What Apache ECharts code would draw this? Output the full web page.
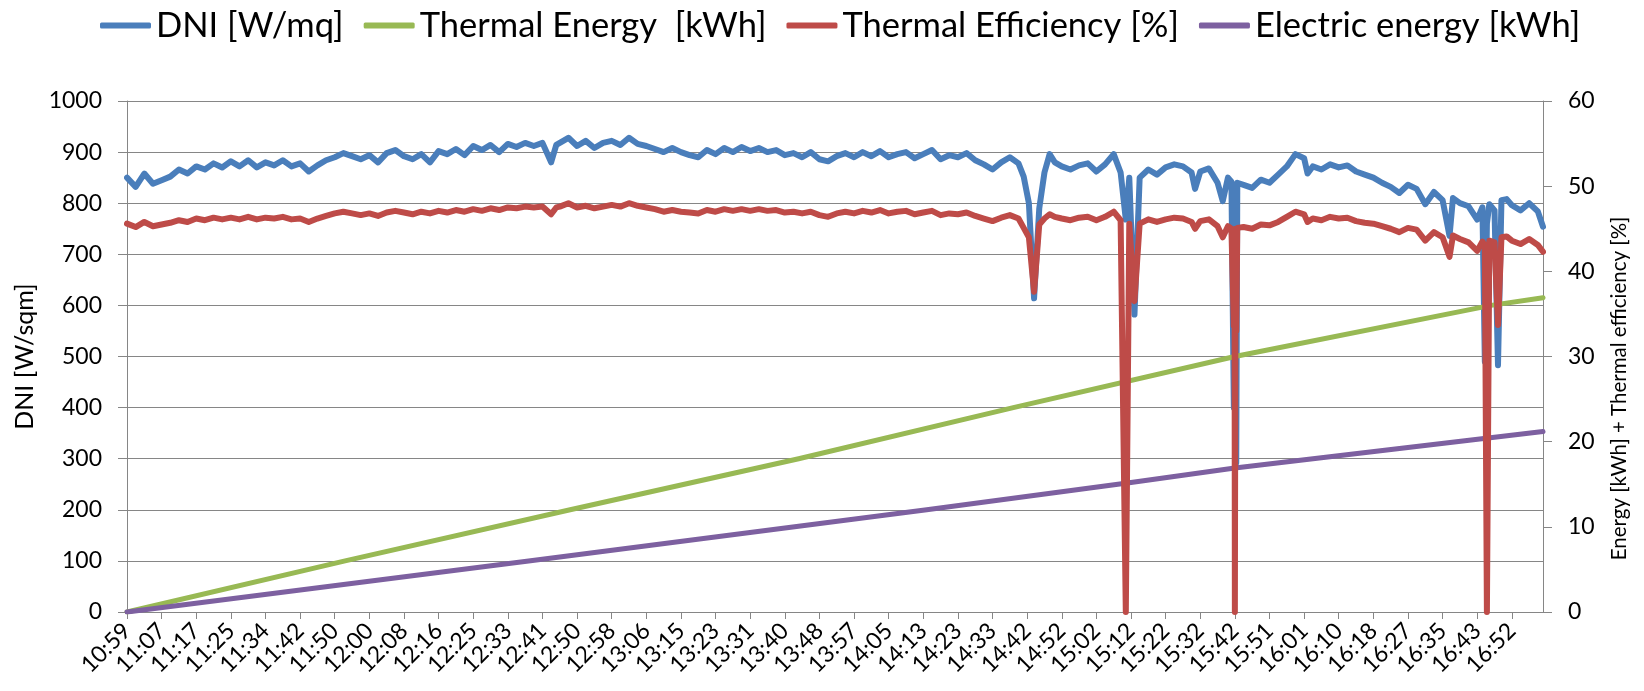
<!DOCTYPE html>
<html>
<head>
<meta charset="utf-8">
<script src="https://cdn.jsdelivr.net/npm/echarts@6/dist/echarts.min.js"></script>
<style>
html,body{margin:0;padding:0;background:#fff;}
#chart{width:1644px;height:691px;}
</style>
</head>
<body>
<div id="chart"></div>
<script>
// x position = index along the category axis, in units of one label step
const tickLabels = ['10:59','11:07','11:17','11:25','11:34','11:42','11:50','12:00','12:08','12:16','12:25','12:33','12:41','12:50','12:58','13:06','13:15','13:23','13:31','13:40','13:48','13:57','14:05','14:13','14:23','14:33','14:42','14:52','15:02','15:12','15:22','15:32','15:42','15:51','16:01','16:10','16:18','16:27','16:35','16:43','16:52'];
const xMax = 40.9;

const dni = [
[0,850],[0.25,832],[0.5,858],[0.75,838],[1,845],[1.25,852],[1.5,866],[1.75,858],[2,872],[2.25,866],[2.5,878],[2.75,870],
[3,882],[3.25,872],[3.5,884],[3.75,870],[4,880],[4.25,874],[4.5,884],[4.75,872],[5,878],[5.25,862],[5.5,874],[5.75,884],
[6,890],[6.25,898],[6.5,892],[6.75,886],[7,894],[7.25,880],[7.5,898],[7.75,904],[8,892],[8.25,886],[8.5,896],[8.75,880],
[9,902],[9.25,896],[9.5,906],[9.75,894],[10,912],[10.25,904],[10.5,914],[10.75,900],[11,916],[11.25,910],[11.5,918],[11.75,912],
[12,918],[12.25,880],[12.4,914],[12.5,918],[12.75,928],[13,912],[13.25,922],[13.5,908],[13.75,918],[14,922],[14.25,914],[14.5,928],
[14.75,916],[15,912],[15.25,906],[15.5,900],[15.75,908],[16,900],[16.25,894],[16.5,890],[16.75,904],[17,896],[17.25,908],[17.5,900],
[17.75,910],[18,902],[18.25,908],[18.5,900],[18.75,904],[19,894],[19.25,898],[19.5,890],[19.75,900],[20,886],[20.25,882],[20.5,892],
[20.75,898],[21,890],[21.25,900],[21.5,892],[21.75,902],[22,890],[22.25,896],[22.5,900],[22.75,888],[23,896],[23.25,904],[23.5,886],
[23.75,894],[24,890],[24.25,898],[24.5,884],[24.75,876],[25,866],[25.25,880],[25.5,890],[25.75,878],[25.9,852],[26.05,800],[26.2,614],
[26.35,790],[26.5,860],[26.65,896],[26.8,880],[27,872],[27.25,866],[27.5,874],[27.75,878],[28,862],[28.25,876],[28.5,896],[28.7,860],
[28.85,768],[28.95,850],[29.1,582],[29.25,850],[29.5,866],[29.75,856],[30,870],[30.25,876],[30.5,872],[30.75,860],[30.85,828],[31,862],
[31.25,868],[31.5,840],[31.65,804],[31.8,850],[31.9,842],[31.97,400],[31.99,830],[32,760],[32.02,834],[32.04,292],[32.07,840],[32.25,836],
[32.5,830],[32.75,846],[33,840],[33.25,856],[33.5,872],[33.75,896],[34,888],[34.1,858],[34.25,872],[34.5,866],[34.75,876],[35,870],
[35.25,874],[35.5,862],[35.75,856],[36,850],[36.25,840],[36.5,832],[36.75,820],[37,836],[37.25,828],[37.5,798],[37.75,822],[38,806],
[38.2,736],[38.3,810],[38.5,800],[38.75,794],[39,768],[39.15,792],[39.22,490],[39.28,760],[39.35,798],[39.5,786],[39.6,483],[39.7,806],
[39.85,808],[40,796],[40.25,786],[40.5,800],[40.75,784],[40.9,754]
];

const efficiency = [
[0,45.6],[0.25,45.2],[0.5,45.8],[0.75,45.3],[1,45.5],[1.25,45.7],[1.5,46.0],[1.75,45.8],[2,46.2],[2.25,46.0],[2.5,46.3],[2.75,46.1],
[3,46.3],[3.25,46.1],[3.5,46.4],[3.75,46.1],[4,46.3],[4.25,46.2],[4.5,46.4],[4.75,46.1],[5,46.2],[5.25,45.8],[5.5,46.2],[5.75,46.5],
[6,46.8],[6.25,47.0],[6.5,46.8],[6.75,46.6],[7,46.8],[7.25,46.5],[7.5,46.9],[7.75,47.1],[8,46.9],[8.25,46.7],[8.5,47.0],[8.75,46.8],
[9,47.1],[9.25,46.9],[9.5,47.2],[9.75,47.0],[10,47.3],[10.25,47.1],[10.5,47.4],[10.75,47.2],[11,47.5],[11.25,47.4],[11.5,47.6],[11.75,47.5],
[12,47.6],[12.25,46.7],[12.4,47.5],[12.5,47.6],[12.75,48.0],[13,47.5],[13.25,47.7],[13.5,47.4],[13.75,47.6],[14,47.8],[14.25,47.6],[14.5,48.0],
[14.75,47.7],[15,47.5],[15.25,47.3],[15.5,47.0],[15.75,47.2],[16,47.0],[16.25,46.9],[16.5,46.8],[16.75,47.2],[17,47.0],[17.25,47.3],[17.5,47.1],
[17.75,47.3],[18,47.1],[18.25,47.3],[18.5,47.1],[18.75,47.2],[19,46.9],[19.25,47.0],[19.5,46.8],[19.75,47.0],[20,46.6],[20.25,46.4],[20.5,46.8],
[20.75,47.0],[21,46.8],[21.25,47.1],[21.5,46.9],[21.75,47.2],[22,46.8],[22.25,47.0],[22.5,47.1],[22.75,46.7],[23,46.9],[23.25,47.1],[23.5,46.6],
[23.75,46.8],[24,46.7],[24.25,46.9],[24.5,46.5],[24.75,46.2],[25,45.9],[25.25,46.3],[25.5,46.6],[25.75,46.2],[25.9,45.1],[26.05,44.0],[26.2,37.6],
[26.35,45.5],[26.5,46.2],[26.65,46.7],[26.8,46.4],[27,46.2],[27.25,46.0],[27.5,46.3],[27.75,46.4],[28,46.0],[28.25,46.4],[28.5,47.0],[28.7,46.0],
[28.85,0],[28.95,45.6],[29.1,36.5],[29.25,45.6],[29.5,46.1],[29.75,45.8],[30,46.1],[30.25,46.3],[30.5,46.2],[30.75,45.8],[30.85,45.0],[31,45.9],
[31.25,46.1],[31.5,45.3],[31.65,44.0],[31.8,45.3],[31.9,45.0],[31.97,33.6],[31.99,44.8],[32,0],[32.02,45.0],[32.04,33.0],[32.07,45.1],[32.25,45.2],
[32.5,45.0],[32.75,45.5],[33,45.4],[33.25,45.8],[33.5,46.4],[33.75,47.0],[34,46.7],[34.1,45.8],[34.25,46.2],[34.5,46.0],[34.75,46.4],[35,46.2],
[35.25,46.3],[35.5,45.9],[35.75,45.7],[36,45.6],[36.25,45.3],[36.5,45.0],[36.75,44.6],[37,45.1],[37.25,44.9],[37.5,43.6],[37.75,44.6],[38,44.0],
[38.2,41.7],[38.3,44.2],[38.5,43.8],[38.75,43.4],[39,42.4],[39.15,43.5],[39.22,43.0],[39.28,0],[39.35,43.6],[39.5,43.4],[39.6,33.7],[39.7,44.0],
[39.85,44.1],[40,43.6],[40.25,43.2],[40.5,43.8],[40.75,43.1],[40.9,42.3]
];

const thermalEnergy = [[0,0],[6.3,6],[12.8,12],[19.4,18],[25.6,24],[32,30],[39.4,36],[40.9,36.9]];
const electricEnergy = [[0,0],[11.6,6],[23.1,12],[29,15.2],[32,16.9],[40.9,21.2]];

const FONT = 'Lato';
const AX = '#868686';

const chart = echarts.init(document.getElementById('chart'), null, {renderer: 'canvas'});
chart.setOption({
  animation: false,
  backgroundColor: '#ffffff',
  textStyle: {fontFamily: FONT, color: '#000'},
  legend: {
    top: 3,
    left: 95,
    itemGap: 20,
    itemWidth: 51,
    itemHeight: 6,
    icon: 'roundRect',
    textStyle: {fontFamily: FONT, fontSize: 34.5, color: '#000'},
    data: ['DNI [W/mq]', 'Thermal Energy  [kWh]', 'Thermal Efficiency [%]', 'Electric energy [kWh]']
  },
  grid: {left: 127, right: 101, top: 101, bottom: 79, containLabel: false},
  xAxis: {
    type: 'value', min: 0, max: xMax, interval: 1,
    axisLine: {show: true, lineStyle: {color: AX, width: 1}},
    axisTick: {show: true, length: 7, lineStyle: {color: AX}},
    splitLine: {show: false},
    axisLabel: {
      rotate: 45, fontSize: 23, fontFamily: FONT, color: '#000', margin: 15,
      showMaxLabel: false,
      formatter: function (v) { return Number.isInteger(v) && tickLabels[v] !== undefined ? tickLabels[v] : ''; }
    }
  },
  yAxis: [
    {
      type: 'value', min: 0, max: 1000, interval: 100, position: 'left',
      name: 'DNI [W/sqm]', nameLocation: 'middle', nameRotate: 90, nameGap: 74,
      nameTextStyle: {fontFamily: FONT, fontSize: 25, color: '#000'},
      axisLine: {show: true, lineStyle: {color: AX, width: 1}},
      axisTick: {show: true, length: 9, lineStyle: {color: AX}},
      splitLine: {show: true, lineStyle: {color: AX, width: 1}},
      axisLabel: {fontSize: 23, fontFamily: FONT, color: '#000', margin: 25,
        formatter: function (v) { return String(v); }}
    },
    {
      type: 'value', min: 0, max: 60, interval: 10, position: 'right',
      name: 'Energy [kWh] + Thermal efficiency [%]', nameLocation: 'middle', nameRotate: 90, nameGap: 66,
      nameTextStyle: {fontFamily: FONT, fontSize: 20.5, color: '#000', padding: [0, 64, 0, 0]},
      axisLine: {show: true, lineStyle: {color: AX, width: 1}},
      axisTick: {show: true, length: 9, lineStyle: {color: AX}},
      splitLine: {show: false},
      axisLabel: {fontSize: 23, fontFamily: FONT, color: '#000', margin: 25}
    }
  ],
  series: [
    {name: 'DNI [W/mq]', type: 'line', yAxisIndex: 0, data: dni, showSymbol: false, symbol: 'none',
     color: '#4A7EBB', lineStyle: {width: 6, color: '#4A7EBB', cap: 'round', join: 'round'}},
    {name: 'Thermal Energy  [kWh]', type: 'line', yAxisIndex: 1, data: thermalEnergy, showSymbol: false, symbol: 'none',
     color: '#98B954', lineStyle: {width: 5, color: '#98B954', cap: 'round', join: 'round'}},
    {name: 'Electric energy [kWh]', type: 'line', yAxisIndex: 1, data: electricEnergy, showSymbol: false, symbol: 'none',
     color: '#7D60A0', lineStyle: {width: 5, color: '#7D60A0', cap: 'round', join: 'round'}},
    {name: 'Thermal Efficiency [%]', type: 'line', yAxisIndex: 1, data: efficiency, showSymbol: false, symbol: 'none',
     color: '#BE4B48', lineStyle: {width: 6, color: '#BE4B48', cap: 'round', join: 'round'}}
  ]
});
</script>
</body>
</html>
